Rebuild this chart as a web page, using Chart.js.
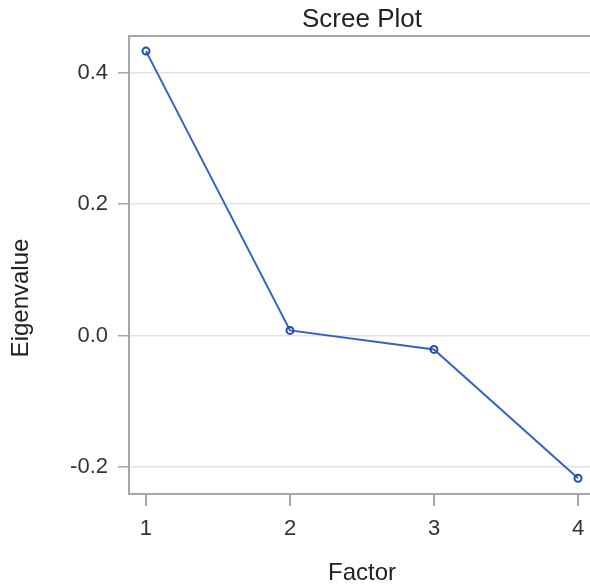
<!DOCTYPE html>
<html>
<head>
<meta charset="utf-8">
<script src="https://cdn.jsdelivr.net/npm/chart.js@4.4.0/dist/chart.umd.min.js"></script>
<style>
  html, body { margin: 0; background: #fff; overflow: hidden; }
  canvas { display: block; }
</style>
</head>
<body>
<!-- the original graph is a bit wider than the window and gets cut on the right;
     extra 6px is eaten by chart.js padding for the last x label -->
<canvas id="scree" width="601" height="588"></canvas>
<script>
var factors = [1, 2, 3, 4];
var eigenvalues = [0.433, 0.008, -0.021, -0.217];
var xTicks = [1, 2, 3, 4];
var yTicks = [-0.2, 0.0, 0.2, 0.4];

var axisGray = '#a3a7ab';
var fontFam = '"Liberation Sans", Arial, sans-serif';

// frame top line, title over plot area, y title centered on whole graph
var framePlugin = {
  id: 'frame',
  afterDraw: function (chart) {
    var ctx = chart.ctx;
    var a = chart.chartArea;
    ctx.save();
    ctx.strokeStyle = axisGray;
    ctx.lineWidth = 2;
    ctx.beginPath();
    ctx.moveTo(a.left - 1, a.top);
    ctx.lineTo(a.right, a.top);
    ctx.stroke();

    ctx.fillStyle = '#222';
    ctx.textAlign = 'center';
    ctx.textBaseline = 'middle';
    ctx.font = '26px ' + fontFam;
    ctx.fillText('Scree Plot', (a.left + a.right) / 2, 20);

    ctx.translate(21, 298);
    ctx.rotate(-Math.PI / 2);
    ctx.font = '24px ' + fontFam;
    ctx.fillText('Eigenvalue', 0, 0);
    ctx.restore();
  }
};

var points = factors.map(function (f, i) { return { x: f, y: eigenvalues[i] }; });

new Chart(document.getElementById('scree'), {
  type: 'line',
  data: {
    datasets: [{
      data: points,
      borderColor: '#3562c2',
      borderWidth: 2,
      pointRadius: 3.5,
      pointBorderWidth: 2,
      pointBorderColor: '#1f4db0',
      pointBackgroundColor: 'rgba(255,255,255,0)',
      tension: 0
    }]
  },
  options: {
    responsive: false,
    devicePixelRatio: 1,
    animation: false,
    layout: { padding: { top: 36, left: 0, right: 0, bottom: 0 } },
    plugins: {
      legend: { display: false },
      tooltip: { enabled: false },
      title: { display: false }
    },
    scales: {
      x: {
        type: 'linear',
        min: 0.882,
        max: 4.118,
        afterBuildTicks: function (axis) {
          axis.ticks = xTicks.map(function (v) { return { value: v }; });
        },
        afterFit: function (axis) { axis.height = 94; },
        grid: {
          drawOnChartArea: false,
          color: axisGray,
          tickColor: axisGray,
          tickLength: 12,
          lineWidth: 2
        },
        border: { display: true, color: axisGray, width: 2 },
        ticks: {
          color: '#333',
          padding: 10,
          maxRotation: 0,
          font: { family: fontFam, size: 22 },
          callback: function (v) { return String(v); }
        },
        title: {
          display: true,
          text: 'Factor',
          color: '#222',
          font: { family: fontFam, size: 24 },
          padding: { top: 0, bottom: 0 }
        }
      },
      y: {
        type: 'linear',
        min: -0.241,
        max: 0.456,
        afterBuildTicks: function (axis) {
          axis.ticks = yTicks.map(function (v) { return { value: v }; });
        },
        afterFit: function (axis) { axis.width = 129; },
        grid: {
          color: '#e3e3e3',
          tickColor: axisGray,
          tickLength: 11,
          lineWidth: 1.5
        },
        border: { display: true, color: axisGray, width: 2 },
        ticks: {
          color: '#333',
          padding: 10,
          font: { family: fontFam, size: 22 },
          callback: function (v) { return v.toFixed(1); }
        },
        title: { display: false }
      }
    }
  },
  plugins: [framePlugin]
});
</script>
</body>
</html>
